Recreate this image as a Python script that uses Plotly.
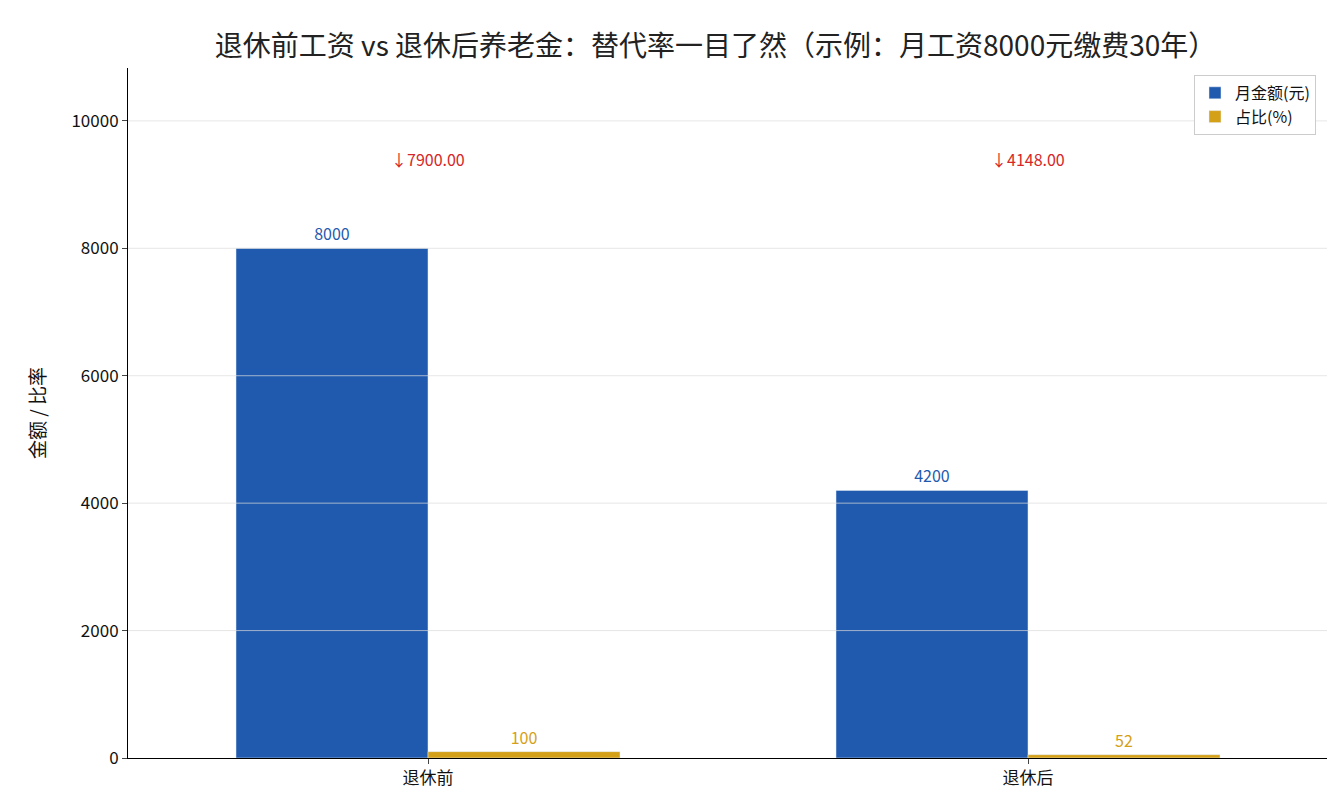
import plotly.graph_objects as go

categories = ['退休前', '退休后']
amounts = [8000, 4200]
ratios = [100, 52]
drops = ['↓7900.00', '↓4148.00']
drop_y = [9400, 9400]
y_ticks = [0, 2000, 4000, 6000, 8000, 10000]

blue = '#1f5aae'
gold = '#d4a017'
font = 'Noto Sans CJK SC'

fig = go.Figure()
fig.add_trace(go.Bar(x=categories, y=amounts, name='月金额(元)', marker_color=blue,
                     text=[str(v) for v in amounts], textposition='outside',
                     textfont=dict(color=blue, size=16), cliponaxis=False))
fig.add_trace(go.Bar(x=categories, y=ratios, name='占比(%)', marker_color=gold,
                     text=[str(v) for v in ratios], textposition='outside',
                     textfont=dict(color=gold, size=16), cliponaxis=False))

for c, t, y in zip(categories, drops, drop_y):
    fig.add_annotation(x=c, y=y, text=t, showarrow=False,
                       font=dict(color='#d62728', size=16))

# grid lines drawn over the bars, like the original
for t in y_ticks[1:]:
    fig.add_shape(type='line', xref='paper', x0=0, x1=1, yref='y', y0=t, y1=t,
                  line=dict(color='rgba(220,220,220,0.7)', width=1), layer='above')

fig.update_layout(
    title=dict(text='退休前工资 vs 退休后养老金：替代率一目了然（示例：月工资8000元缴费30年）',
               x=0.53, xanchor='center', y=0.965, font=dict(size=28, color='#222')),
    font=dict(family=font, size=17, color='#111'),
    width=1335, height=810,
    plot_bgcolor='white', paper_bgcolor='white',
    margin=dict(l=120, r=15, t=60, b=60, autoexpand=False),
    barmode='group', bargap=0.36, bargroupgap=0,
    xaxis=dict(showline=True, linecolor='black', ticks='outside', ticklen=5,
               tickfont=dict(size=17), automargin=False),
    yaxis=dict(title=dict(text='金额 / 比率', font=dict(size=19), standoff=20),
               range=[0, 10830], automargin=False,
               tickvals=y_ticks, ticktext=[str(t) for t in y_ticks],
               showline=True, linecolor='black', ticks='outside',
               ticklen=5, showgrid=False, zeroline=False, tickfont=dict(size=17)),
    legend=dict(x=0.99, y=0.99, xanchor='right', yanchor='top', bordercolor='#ccc',
                borderwidth=1, font=dict(size=16), bgcolor='white'),
)

fig.write_html('out.html')
